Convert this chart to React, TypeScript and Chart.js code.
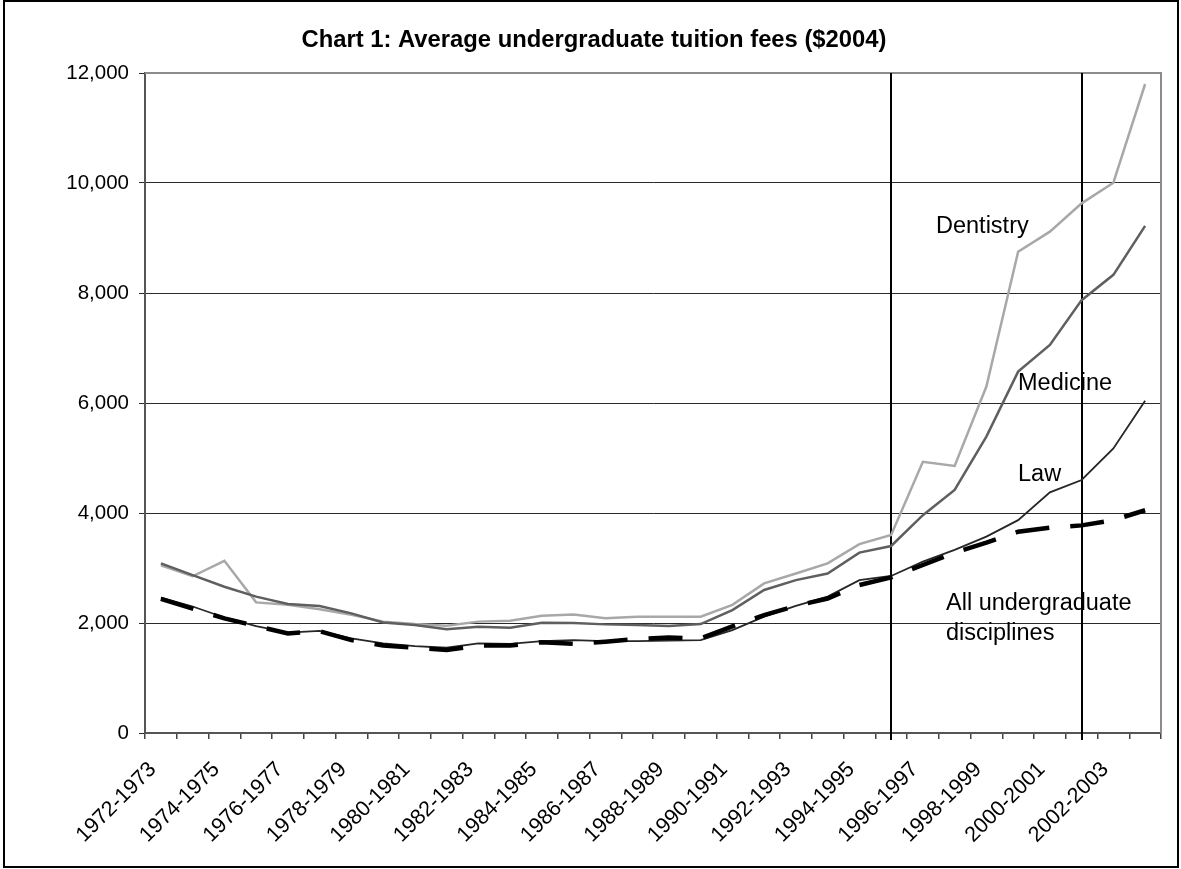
import React, { useEffect, useRef } from 'react';
import { Chart, registerables } from 'chart.js';

Chart.register(...registerables);

const categories = [
  '1972-1973', '1973-1974', '1974-1975', '1975-1976', '1976-1977', '1977-1978',
  '1978-1979', '1979-1980', '1980-1981', '1981-1982', '1982-1983', '1983-1984',
  '1984-1985', '1985-1986', '1986-1987', '1987-1988', '1988-1989', '1989-1990',
  '1990-1991', '1991-1992', '1992-1993', '1993-1994', '1994-1995', '1995-1996',
  '1996-1997', '1997-1998', '1998-1999', '1999-2000', '2000-2001', '2001-2002',
  '2002-2003', '2003-2004',
];

const labeledCategories = [
  '1972-1973', '1974-1975', '1976-1977', '1978-1979', '1980-1981', '1982-1983',
  '1984-1985', '1986-1987', '1988-1989', '1990-1991', '1992-1993', '1994-1995',
  '1996-1997', '1998-1999', '2000-2001', '2002-2003',
];

const markerCategories = ['1995-1996', '2001-2002'];

const dentistry = [
  3050, 2850, 3130, 2375, 2330, 2250, 2150, 2025, 1980, 1950, 2025, 2040,
  2130, 2155, 2085, 2115, 2115, 2115, 2330, 2720, 2900, 3085, 3435, 3600,
  4930, 4855, 6300, 8750, 9115, 9630, 10005, 11800,
];

const medicine = [
  3085, 2870, 2660, 2480, 2345, 2310, 2175, 2010, 1965, 1885, 1930, 1915,
  2005, 2000, 1975, 1965, 1945, 1980, 2235, 2600, 2780, 2900, 3280, 3400,
  3960, 4420, 5390, 6570, 7055, 7870, 8330, 9220,
];

const law = [
  2460, 2300, 2100, 1945, 1825, 1855, 1720, 1630, 1580, 1550, 1630, 1620,
  1670, 1690, 1670, 1670, 1680, 1690, 1870, 2115, 2310, 2480, 2780, 2855,
  3115, 3330, 3570, 3870, 4375, 4600, 5175, 6040,
];

const allUndergrad = [
  2440, 2260, 2085, 1945, 1810, 1850, 1690, 1590, 1550, 1510, 1590, 1590,
  1650, 1620, 1660, 1710, 1735, 1720, 1940, 2145, 2310, 2445, 2690, 2830,
  3055, 3280, 3460, 3660, 3735, 3775, 3870, 4050,
];

const yTicks = [0, 2000, 4000, 6000, 8000, 10000, 12000];

const titleText = 'Chart 1: Average undergraduate tuition fees ($2004)';

const annotations = [
  { lines: ['Dentistry'], x: 936, y: 233 },
  { lines: ['Medicine'], x: 1018, y: 390 },
  { lines: ['Law'], x: 1018, y: 481 },
  { lines: ['All undergraduate', 'disciplines'], x: 946, y: 610 },
];

const FONT = '"Liberation Sans", Arial, Helvetica, sans-serif';

const decorPlugin = {
  id: 'decor',
  beforeDatasetsDraw(chart: any) {
    const { ctx, chartArea, scales } = chart;
    const { left, right, top, bottom } = chartArea;
    ctx.save();
    ctx.strokeStyle = '#8c8c8c';
    ctx.lineWidth = 2;
    ctx.beginPath();
    ctx.moveTo(left, top);
    ctx.lineTo(right, top);
    ctx.lineTo(right, bottom);
    ctx.stroke();
    ctx.strokeStyle = '#000000';
    ctx.lineWidth = 2;
    markerCategories.forEach((c) => {
      const px = Math.round(scales.x.getPixelForValue(categories.indexOf(c)));
      ctx.beginPath();
      ctx.moveTo(px, top);
      ctx.lineTo(px, bottom + 7);
      ctx.stroke();
    });
    ctx.restore();
  },
  afterDraw(chart: any) {
    const { ctx } = chart;
    ctx.save();
    ctx.fillStyle = '#000000';
    ctx.font = `bold 23.8px ${FONT}`;
    ctx.textAlign = 'center';
    ctx.textBaseline = 'alphabetic';
    ctx.fillText(titleText, 594, 47);
    ctx.font = `23.5px ${FONT}`;
    ctx.textAlign = 'left';
    annotations.forEach((a) => {
      a.lines.forEach((line, i) => {
        ctx.fillText(line, a.x, a.y + i * 30);
      });
    });
    ctx.strokeStyle = '#000000';
    ctx.lineWidth = 2;
    ctx.strokeRect(4, 1, 1174, 866);
    ctx.restore();
  },
};

export default function App() {
  const canvasRef = useRef<HTMLCanvasElement | null>(null);

  useEffect(() => {
    document.body.style.margin = '0';
    const canvas = canvasRef.current;
    if (!canvas) return;
    const chart = new Chart(canvas, {
      type: 'line',
      data: {
        labels: categories,
        datasets: [
          {
            label: 'All undergraduate disciplines',
            data: allUndergrad,
            borderColor: '#000000',
            borderWidth: 4.5,
            borderDash: [34, 21],
            pointRadius: 0,
            fill: false,
            tension: 0,
          },
          {
            label: 'Law',
            data: law,
            borderColor: '#262626',
            borderWidth: 1.8,
            pointRadius: 0,
            fill: false,
            tension: 0,
          },
          {
            label: 'Medicine',
            data: medicine,
            borderColor: '#5f5f5f',
            borderWidth: 2.5,
            pointRadius: 0,
            fill: false,
            tension: 0,
          },
          {
            label: 'Dentistry',
            data: dentistry,
            borderColor: '#a8a8a8',
            borderWidth: 2.5,
            pointRadius: 0,
            fill: false,
            tension: 0,
          },
        ],
      },
      options: {
        animation: false,
        responsive: false,
        maintainAspectRatio: false,
        layout: { padding: { top: 73, left: 0, right: 20, bottom: 0 } },
        plugins: {
          legend: { display: false },
          tooltip: { enabled: false },
          title: { display: false },
        },
        scales: {
          x: {
            type: 'category',
            offset: true,
            grid: {
              offset: true,
              drawOnChartArea: false,
              drawTicks: true,
              tickLength: 6,
              color: '#444444',
              lineWidth: 1.5,
            },
            border: { display: true, color: '#555555', width: 2 },
            ticks: {
              autoSkip: false,
              minRotation: 45,
              maxRotation: 45,
              padding: 18,
              labelOffset: -8,
              color: '#000000',
              font: { family: FONT, size: 21.5 },
              callback: (_v: any, idx: number) =>
                labeledCategories.includes(categories[idx]) ? categories[idx] : '',
            },
            afterFit: (s: any) => {
              s.height = 136;
              s.paddingLeft = 0;
              s.paddingRight = 0;
            },
          },
          y: {
            min: 0,
            max: 12000,
            afterBuildTicks: (s: any) => {
              s.ticks = yTicks.map((v) => ({ value: v }));
            },
            grid: {
              color: '#2a2a2a',
              lineWidth: 1,
              drawTicks: true,
              tickLength: 6,
            },
            border: { display: true, color: '#555555', width: 2 },
            ticks: {
              padding: 10,
              color: '#000000',
              font: { family: FONT, size: 20.5 },
              callback: (v: any) => Number(v).toLocaleString('en-US'),
            },
            afterFit: (s: any) => {
              s.width = 145;
              s.paddingTop = 0;
              s.paddingBottom = 0;
            },
          },
        },
      },
      plugins: [decorPlugin],
    });
    return () => chart.destroy();
  }, []);

  return (
    <div style={{ width: 1181, height: 869 }}>
      <canvas ref={canvasRef} width={1181} height={869} />
    </div>
  );
}
